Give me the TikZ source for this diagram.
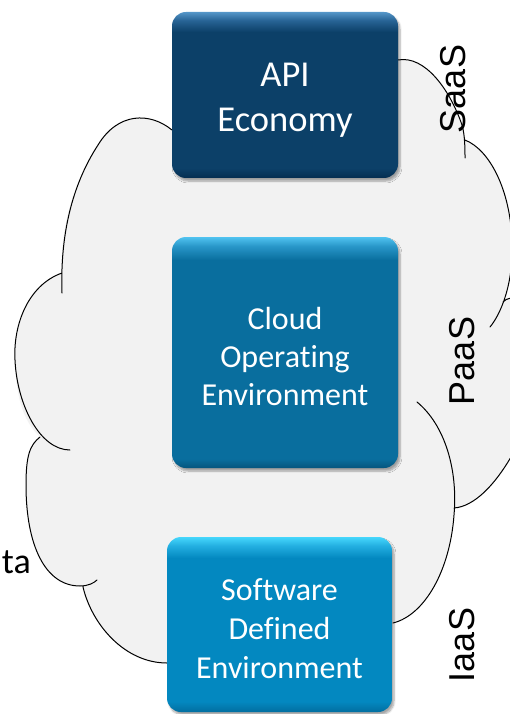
\documentclass[tikz,border=0pt]{standalone}
\usepackage{fontspec}
\setmainfont{Carlito}[Ligatures=NoCommon]
\newfontfamily\arialfont{Liberation Sans}
\usetikzlibrary{shadows.blur,positioning}

\definecolor{cloudgray}{RGB}{242,242,242}
\definecolor{apidark}{RGB}{5,45,80}
\definecolor{apimain}{RGB}{12,64,104}
\definecolor{apimid}{RGB}{40,100,150}
\definecolor{apilight}{RGB}{85,150,200}
\definecolor{coedark}{RGB}{5,85,125}
\definecolor{coemain}{RGB}{9,110,158}
\definecolor{coemid}{RGB}{40,150,200}
\definecolor{coelight}{RGB}{80,195,240}
\definecolor{sdedark}{RGB}{2,110,160}
\definecolor{sdemain}{RGB}{3,136,192}
\definecolor{sdemid}{RGB}{35,175,225}
\definecolor{sdelight}{RGB}{70,215,252}

\pgfdeclareverticalshading{apishade}{100bp}{color(0bp)=(apidark); color(25bp)=(apidark); color(28bp)=(apimain); color(69bp)=(apimain); color(72.5bp)=(apimid); color(75bp)=(apilight); color(100bp)=(apilight)}
\pgfdeclareverticalshading{coeshade}{100bp}{color(0bp)=(coedark); color(25bp)=(coedark); color(27bp)=(coemain); color(70bp)=(coemain); color(73bp)=(coemid); color(75bp)=(coelight); color(100bp)=(coelight)}
\pgfdeclareverticalshading{sdeshade}{100bp}{color(0bp)=(sdedark); color(25bp)=(sdedark); color(28bp)=(sdemain); color(69bp)=(sdemain); color(72.5bp)=(sdemid); color(75bp)=(sdelight); color(100bp)=(sdelight)}

\begin{document}
\begin{tikzpicture}[x=1pt,y=-1pt,line join=round,line cap=round,
  cloudline/.style={line width=1pt,black},
  box/.style={shade,rounded corners=14pt,inner sep=0pt,align=center,text=white,
    blur shadow={shadow xshift=2pt,shadow yshift=-3pt,shadow opacity=35,shadow blur steps=6}},
  layer/.style={rotate=90,inner sep=0pt,font=\arialfont\fontsize{36}{40}\selectfont}]
\useasboundingbox (0,0) rectangle (510,714);
\clip (0,0) rectangle (510,714);
% cloud
\fill[cloudgray] (398,60) .. controls (425,55) and (450,90) .. (462,125)
  .. controls (464,132) and (465,138) .. (466,141)
  .. controls (490,150) and (510,190) .. (512,240)
  .. controls (513,268) and (509,290) .. (503,302)
  .. controls (520,285) and (540,330) .. (540,380)
  .. controls (535,420) and (495,505) .. (454,508)
  .. controls (452,570) and (425,615) .. (393,623)
  -- (390,663) -- (167,663)
  .. controls (125,663) and (92,625) .. (83,587) -- (80,586)
  .. controls (45,586) and (26,545) .. (26,485)
  .. controls (26,455) and (30,445) .. (40,437)
  .. controls (22,420) and (16,395) .. (15,360)
  .. controls (13,325) and (28,285) .. (62,273)
  .. controls (60,230) and (72,185) .. (98,145)
  .. controls (118,112) and (150,112) .. (172,130) -- cycle;
\draw[cloudline] (172,130) .. controls (150,112) and (118,112) .. (98,145) .. controls (72,185) and (60,235) .. (62,293)
  (62,273) .. controls (28,285) and (13,325) .. (15,360) .. controls (17,405) and (40,450) .. (70,450)
  (40,437) .. controls (30,445) and (26,455) .. (26,485) .. controls (26,545) and (45,586) .. (80,586) .. controls (88,586) and (94,583) .. (97,580)
  (83,587) .. controls (92,625) and (125,663) .. (167,663);
\draw[cloudline] (398,60) .. controls (425,55) and (450,90) .. (462,125) .. controls (465,135) and (465,150) .. (465,158)
  (465,140) .. controls (490,150) and (510,190) .. (512,240) .. controls (514,285) and (500,315) .. (490,327)
  (503,302) .. controls (520,285) and (540,330) .. (540,380) .. controls (535,420) and (495,505) .. (454,508)
  (417,402) .. controls (445,425) and (458,470) .. (454,515) .. controls (450,570) and (425,615) .. (393,623);
% layers
\node[box,shading=apishade,minimum width=226pt,minimum height=166pt,font=\fontsize{36.5}{45}\selectfont] (api) at (285,95) {\rule{0pt}{34pt}API\\Economy};
\node[box,shading=coeshade,minimum width=226pt,minimum height=231pt,font=\fontsize{32}{38}\selectfont] (coe) at (285,352.5) {\rule{0pt}{31pt}Cloud\\Operating\\Environment};
\node[box,shading=sdeshade,minimum width=225pt,minimum height=175pt,font=\fontsize{32}{39}\selectfont] (sde) at (279.5,624.5) {\rule{0pt}{31pt}Software\\Defined\\Environment};
\foreach \n/\t/\x/\y in {saas/SaaS/453/89,paas/PaaS/462/361,iaas/IaaS/462/645}{\node[layer] (\n) at (\x,\y) {\t};}
\node[anchor=base east,inner sep=0pt,font=\fontsize{36}{40}\selectfont] (data) at (31,573) {ta};
\end{tikzpicture}
\end{document}
